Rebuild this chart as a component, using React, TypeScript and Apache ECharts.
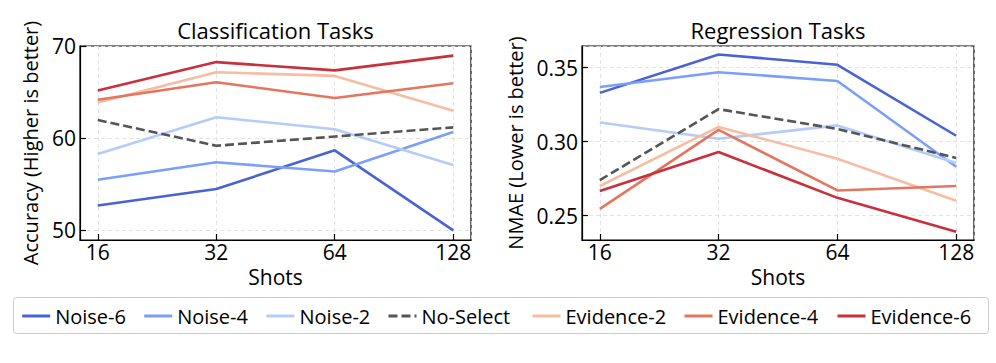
import React, { useEffect, useRef } from 'react';
import * as echarts from 'echarts';

const shots = [16, 32, 64, 128];
const seriesNames = ['Noise-6', 'Noise-4', 'Noise-2', 'No-Select', 'Evidence-2', 'Evidence-4', 'Evidence-6'];
const seriesColors = ['#4a63d3', '#7b9ff9', '#b4cbfb', '#555555', '#f6bda3', '#e4765f', '#c8303c'];

// Classification accuracy
const clsNoise6 = [52.7, 54.5, 58.7, 50.0];
const clsNoise4 = [55.5, 57.4, 56.4, 60.7];
const clsNoise2 = [58.3, 62.3, 61.0, 57.1];
const clsNoSelect = [62.0, 59.2, 60.2, 61.2];
const clsEvidence2 = [63.9, 67.2, 66.8, 63.0];
const clsEvidence4 = [64.2, 66.1, 64.4, 66.0];
const clsEvidence6 = [65.2, 68.3, 67.4, 69.0];

// Regression NMAE
const regNoise6 = [0.333, 0.359, 0.352, 0.304];
const regNoise4 = [0.337, 0.347, 0.341, 0.283];
const regNoise2 = [0.313, 0.302, 0.311, 0.2855];
const regNoSelect = [0.274, 0.322, 0.3086, 0.289];
const regEvidence2 = [0.270, 0.310, 0.2885, 0.260];
const regEvidence4 = [0.2545, 0.308, 0.267, 0.270];
const regEvidence6 = [0.2667, 0.293, 0.262, 0.239];

const clsTicks = [50, 60, 70];
const regTicks = [0.25, 0.30, 0.35];

const clsData = [clsNoise6, clsNoise4, clsNoise2, clsNoSelect, clsEvidence2, clsEvidence4, clsEvidence6];
const regData = [regNoise6, regNoise4, regNoise2, regNoSelect, regEvidence2, regEvidence4, regEvidence6];

const FONT = 'Open Sans';

export default function App() {
  const ref = useRef<HTMLDivElement>(null);
  useEffect(() => {
    const chart = echarts.init(ref.current!, null, { renderer: 'svg' });
    const xMin = shots[0] / Math.pow(2, 0.15);
    const xMax = shots[shots.length - 1] * Math.pow(2, 0.15);
    const xAxisBase = (gridIndex: number) => ({
      type: 'log',
      logBase: 2,
      gridIndex,
      min: xMin,
      max: xMax,
      name: 'Shots',
      nameLocation: 'middle',
      nameGap: 20,
      nameTextStyle: { fontSize: 21, fontFamily: FONT, color: '#000' },
      axisLine: { show: true, lineStyle: { color: '#000', width: 1.2 } },
      axisTick: { show: true, inside: true, length: 6, lineStyle: { color: '#000', width: 1.2 } },
      axisLabel: {
        fontSize: 21, fontFamily: FONT, color: '#000', margin: 1,
        showMinLabel: false, showMaxLabel: false,
        formatter: (v: number) => String(Math.round(v)),
      },
      splitLine: { show: true, lineStyle: { color: '#dcdcdc', type: [4, 3], width: 0.8 } },
    });
    const yAxisBase = (gridIndex: number, name: string, min: number, max: number, split: number, nameGap: number, fmt: (v: number) => string) => ({
      type: 'value',
      gridIndex,
      min,
      max,
      splitNumber: split,
      name,
      nameLocation: 'middle',
      nameGap,
      nameTextStyle: { fontSize: 20, fontFamily: FONT, color: '#000' },
      axisLine: { show: true, lineStyle: { color: '#000', width: 1.2 } },
      axisTick: { show: true, inside: true, length: 6, lineStyle: { color: '#000', width: 1.2 } },
      axisLabel: {
        fontSize: 21, fontFamily: FONT, color: '#000', margin: 4,
        showMinLabel: false, showMaxLabel: false,
        formatter: fmt,
      },
      splitLine: { show: true, lineStyle: { color: '#dcdcdc', type: [4, 3], width: 0.8 } },
    });

    const makeSeries = (data: number[][], xi: number) =>
      seriesNames.map((name, i) => ({
        name,
        type: 'line',
        xAxisIndex: xi,
        yAxisIndex: xi,
        symbol: 'none',
        showSymbol: false,
        data: shots.map((s, j) => [s, data[i][j]]),
        lineStyle: {
          color: seriesColors[i],
          width: 2.6,
          type: name === 'No-Select' ? [9, 4] : 'solid',
        },
        itemStyle: { color: seriesColors[i] },
        z: 2 + i,
      }));

    const legendLefts = [20.7, 142.7, 265, 387, 531, 683, 836];
    const legends = seriesNames.map((n, i) => ({
      data: [n],
      left: legendLefts[i],
      top: 306,
      itemWidth: 28,
      itemHeight: 14,
      padding: 0,
      selectedMode: false,
      itemStyle: { opacity: 0, borderWidth: 0 },
      lineStyle: { width: 3 },
      textStyle: { fontSize: 20, fontFamily: FONT, color: '#000' },
    }));

    const option: any = {
      animation: false,
      backgroundColor: '#fff',
      title: [
        { text: 'Classification Tasks', left: 275.5, top: 19, textAlign: 'center', padding: 0,
          textStyle: { fontSize: 22, fontWeight: 'normal', fontFamily: FONT, color: '#000' } },
        { text: 'Regression Tasks', left: 778, top: 19, textAlign: 'center', padding: 0,
          textStyle: { fontSize: 22, fontWeight: 'normal', fontFamily: FONT, color: '#000' } },
      ],
      grid: [
        { left: 80, top: 46, width: 391, height: 194, show: true, borderColor: '#000', borderWidth: 1.2, containLabel: false },
        { left: 582, top: 46, width: 392, height: 194, show: true, borderColor: '#000', borderWidth: 1.2, containLabel: false },
      ],
      xAxis: [xAxisBase(0), xAxisBase(1)],
      yAxis: [
        yAxisBase(0, 'Accuracy (Higher is better)', 48.95, 70.05, 2, 40, (v: number) => String(Math.round(v))),
        yAxisBase(1, 'NMAE (Lower is better)', 0.2335, 0.3647, 2, 57, (v: number) => v.toFixed(2)),
      ],
      legend: legends,
      graphic: [
        { type: 'rect', z: -1, shape: { x: 13.5, y: 297.5, width: 975, height: 36, r: 3 },
          style: { fill: '#fff', stroke: '#cccccc', lineWidth: 1 } },
      ],
      series: [...makeSeries(clsData, 0), ...makeSeries(regData, 1)],
    };
    chart.setOption(option);
    return () => chart.dispose();
  }, []);
  return <div ref={ref} style={{ position: 'fixed', left: 0, top: 0, width: 996, height: 363 }} />;
}
